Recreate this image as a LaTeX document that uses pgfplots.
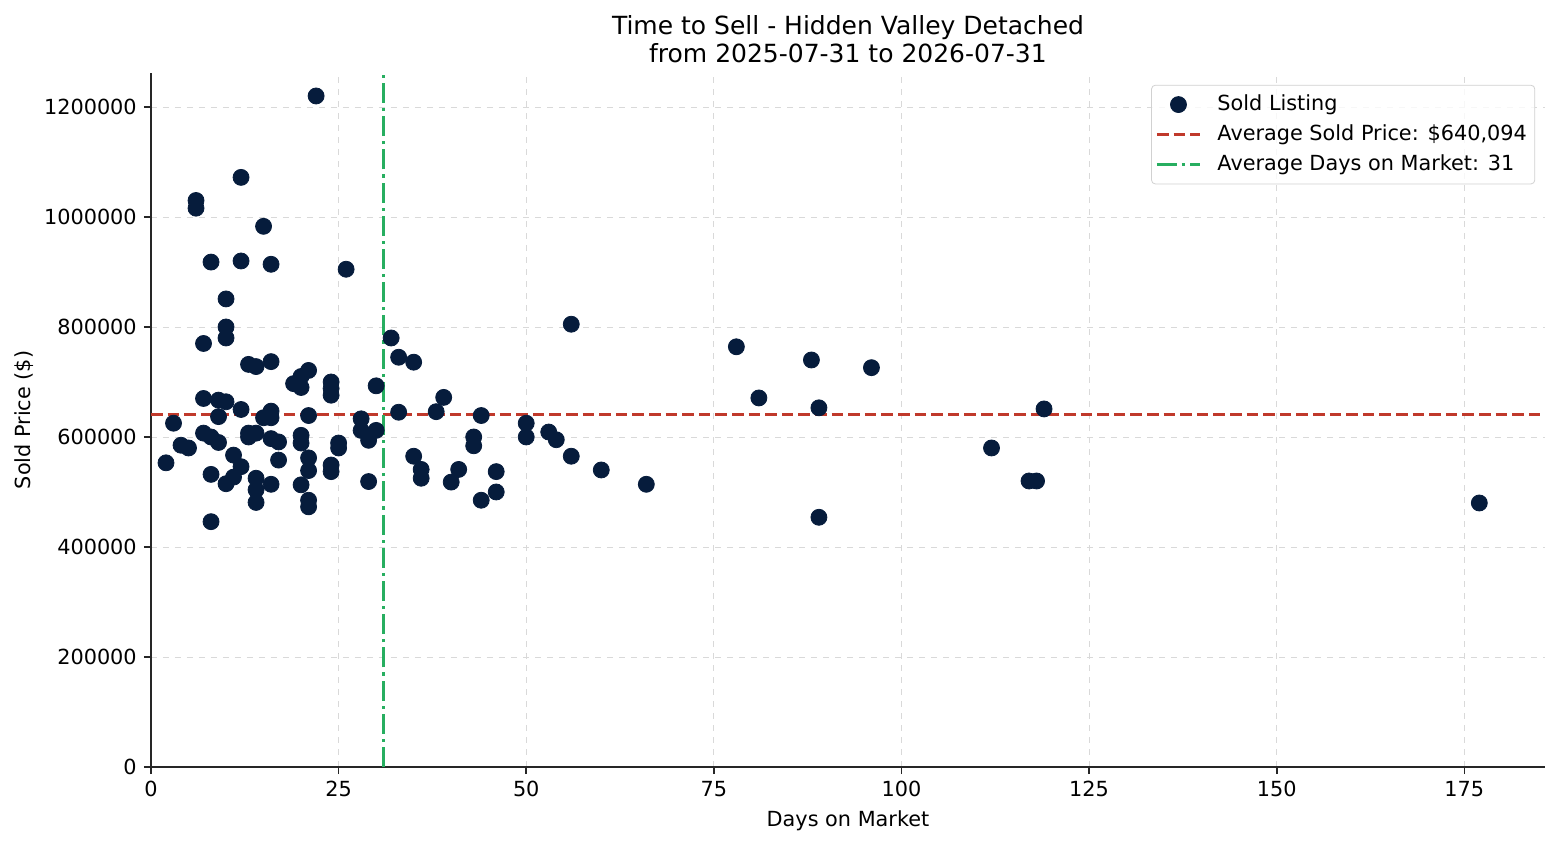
\documentclass[border=0pt]{standalone}
\usepackage{fontspec}
\setmainfont{DejaVu Sans}
\usepackage{pgfplots}
\pgfplotsset{compat=1.18}
\definecolor{navy}{RGB}{6,28,60}
\definecolor{avgred}{RGB}{192,57,43}
\definecolor{avggreen}{RGB}{39,174,96}
\newcommand{\lbl}{\fontsize{10.4}{12.5}\selectfont}
\pgfplotsset{
  markleg/.style={legend image code/.code={\draw[##1, fill opacity=1, draw opacity=1] plot coordinates {(10.75pt,0pt)}; \path (0pt,0pt) (21.5pt,0pt);}},
  lineleg/.style={legend image code/.code={\draw[##1, draw opacity=1] (0pt,0pt) -- (21.5pt,0pt);}},
}

\pgfplotstableread{
days price
2 553000
3 625000
4 585000
5 580000
6 1030000
6 1016000
7 770000
7 670000
7 607000
8 918000
8 600000
8 532000
8 446000
9 667000
9 637000
9 590000
10 851000
10 800000
10 780000
10 664000
10 515000
11 567000
11 527000
12 1072000
12 920000
12 650000
12 546000
13 732000
13 607000
13 600000
14 728000
14 607000
14 525000
14 504000
14 481000
15 983000
15 635000
16 914000
16 737000
16 647000
16 635000
16 597000
16 514000
17 591000
17 558000
19 697000
20 710000
20 690000
20 603000
20 589000
20 513000
21 721000
21 639000
21 562000
21 539000
21 485000
21 473000
22 1220000
24 700000
24 688000
24 676000
24 549000
24 537000
25 589000
25 580000
26 905000
28 633000
28 612000
29 594000
29 519000
30 693000
30 612000
32 780000
33 745000
33 645000
35 736000
35 565000
36 541000
36 525000
38 646000
39 672000
40 518000
41 541000
43 600000
43 584000
44 639000
44 485000
46 537000
46 500000
50 625000
50 600000
53 609000
54 595000
56 805000
56 565000
60 540000
66 514000
78 764000
81 671000
88 740000
89 653000
89 454000
96 726000
112 580000
117 520000
118 520000
119 651000
177 480000
}\sold

\begin{document}
\begin{tikzpicture}
\path[use as bounding box] (-75.5pt,-39pt) rectangle (704.5pt,383.5pt);
\begin{axis}[
    at={(0,0)}, anchor=south west,
    scale only axis,
    width=697pt, height=347pt,
    xmin=0, xmax=185.75,
    ymin=0, ymax=1261800,
    axis lines=left,
    axis line style={-, line width=0.8pt, black!85},
    tick style={line width=0.8pt, black!85},
    tick align=outside,
    major tick length=3.6pt,
    xtick={0,25,...,175},
    ytick={0,200000,...,1200000},
    scaled y ticks=false,
    yticklabel style={/pgf/number format/fixed, /pgf/number format/1000 sep={}},
    /pgf/number format/assume math mode=true,
    tick label style={font=\lbl},
    label style={font=\lbl},
    ylabel style={yshift=-1.5pt},
    grid=major,
    grid style={gray!30, dashed, line width=0.4pt},
    xlabel={Days on Market},
    ylabel={Sold Price (\$)},
    title={Time to Sell - Hidden Valley Detached\\from 2025-07-31 to 2026-07-31},
    title style={font=\fontsize{12.5}{14}\selectfont, align=center, yshift=-4.5pt},
    legend cell align=left,
    legend style={
        at={(0.993,0.983)}, anchor=north east,
        font=\lbl,
        draw=black!18, rounded corners=2pt,
        fill=white, fill opacity=0.8, text opacity=1,
        row sep=1.6pt, inner xsep=2pt, inner ysep=3pt,
    },
]
\addplot[only marks, mark=*, mark size=4pt, color=navy, markleg]
    table[x=days, y=price] {\sold};
\addlegendentry{\hspace{6pt}Sold Listing}

\addplot[avgred, line width=1.5pt, dash pattern=on 5.8pt off 2.5pt, lineleg]
    coordinates {(0,640094) (185.75,640094)};
\addlegendentry{\hspace{6pt}Average Sold Price: \$640,094}

\addplot[avggreen, line width=1.5pt, dash pattern=on 10pt off 2.5pt on 1.6pt off 2.5pt, lineleg]
    coordinates {(31,0) (31,1261800)};
\addlegendentry{\hspace{6pt}Average Days on Market: 31}
\end{axis}
\end{tikzpicture}
\end{document}
